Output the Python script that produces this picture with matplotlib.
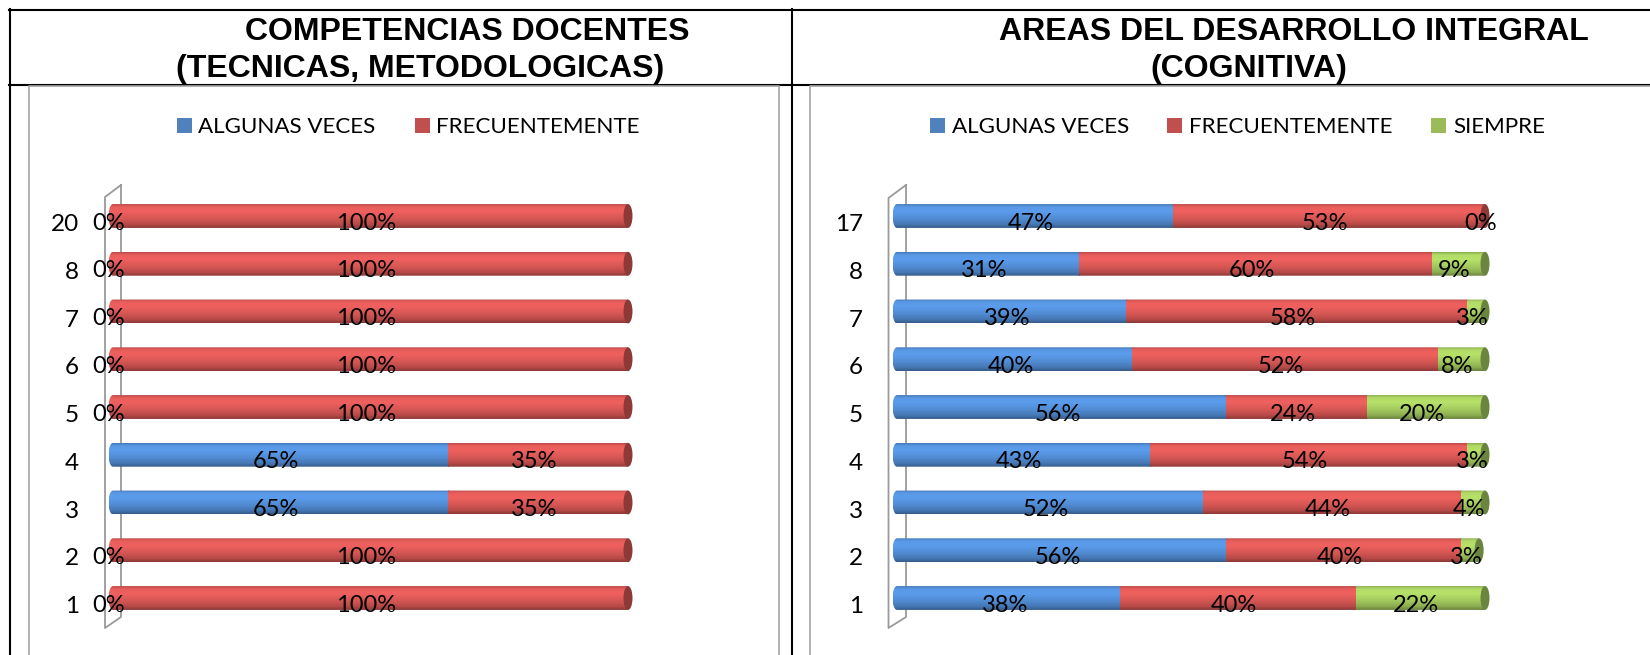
import numpy as np
import matplotlib
matplotlib.use('Agg')
import matplotlib.pyplot as plt
from matplotlib.patches import Polygon, Ellipse, Rectangle
from matplotlib.lines import Line2D
from matplotlib.transforms import ScaledTranslation

plt.rcParams['font.family'] = ['Lato', 'DejaVu Sans']

W, H = 1650, 655

## left chart: competencias docentes
rows_left = ['1', '2', '3', '4', '5', '6', '7', '8', '20']
algunas_left = [0, 0, 65, 65, 0, 0, 0, 0, 0]
frecuente_left = [100, 100, 35, 35, 100, 100, 100, 100, 100]

## right chart: areas del desarrollo integral
rows_right = ['1', '2', '3', '4', '5', '6', '7', '8', '17']
algunas_right = [38, 56, 52, 43, 56, 40, 39, 31, 47]
frecuente_right = [40, 40, 44, 54, 24, 52, 58, 60, 53]
siempre_right = [22, 3, 4, 3, 20, 8, 3, 9, 0]

names = ['ALGUNAS VECES', 'FRECUENTEMENTE', 'SIEMPRE']
bar_colors = [(0.32, 0.55, 0.83), (0.84, 0.34, 0.33), (0.64, 0.79, 0.37)]
legend_colors = ['#4F81BD', '#C0504D', '#9BBB59']


def fx(x):
    return x / W


def fy(y):
    return 1 - y / H


def shade(c):
    # vertical light profile of a cylinder lit from above
    t = np.linspace(0, 1, 32)
    f = np.interp(t, [0, 0.1, 0.3, 0.6, 0.85, 1], [0.88, 1.08, 1.12, 1.0, 0.86, 0.66])
    rgb = np.clip(np.outer(f, c), 0, 1)
    return rgb[:, None, :]


def make_axes(x0, x100):
    top, bottom = 170, 640
    step = 47.75
    px_per = (x100 - x0) / 100.0
    ax = fig.add_axes([fx(x0 - 5 * px_per), fy(bottom), 110 * px_per / W, (bottom - top) / H])
    ax.patch.set_visible(False)
    for s in ax.spines.values():
        s.set_visible(False)
    ax.set_xticks([])
    return ax, (-(bottom - 598) / step, 8 + (216 - top) / step)


def draw_chart(ax, ylim, rows, series, x0, x100):
    px_per = (x100 - x0) / 100.0
    r = 4.5 / px_per
    h = 0.5
    # labels sit on the front face of the cylinders: a bit left and down
    lab_dx = -4.0 / px_per
    for i in range(len(rows)):
        vals = [s[i] for s in series]
        total = sum(vals)
        t = np.linspace(np.pi / 2, 3 * np.pi / 2, 30)
        outline = np.column_stack([r * np.cos(t), i + h / 2 * np.sin(t)])
        outline = np.vstack([outline, [[total, i - h / 2], [total, i + h / 2]]])
        clip = Polygon(outline, closed=True, transform=ax.transData)
        left = 0
        started = False
        last_color = bar_colors[0]
        for v, c in zip(vals, bar_colors):
            if v > 0:
                xs = left if started else -r
                im = ax.imshow(shade(c), extent=[xs, left + v, i - h / 2, i + h / 2],
                               aspect='auto', interpolation='bilinear', zorder=2)
                im.set_clip_path(clip)
                started = True
                last_color = c
            ax.text(left + v / 2.0 + lab_dx, i - 0.283, '%d%%' % v, ha='center', va='baseline',
                    fontsize=17, zorder=5)
            left += v
        cap = Ellipse((total, i), 2 * r, h, facecolor=np.array(last_color) * 0.66,
                      edgecolor='none', zorder=3)
        ax.add_patch(cap)

    ax.set_yticks(range(len(rows)))
    ax.set_yticklabels(rows, fontsize=17.5)
    ax.tick_params(axis='y', length=0, pad=(34 - 5 * px_per) / 1.389)
    for lab in ax.get_yticklabels():
        lab.set_transform(lab.get_transform() + ScaledTranslation(0, -4.7 / 72, fig.dpi_scale_trans))
    ax.set_xlim(-5, 105)
    ax.set_ylim(*ylim)


def fig_line(xs, ys, color='black', lw=1.5, ax=None, zorder=2):
    X = [fx(x) for x in xs]
    Y = [fy(y) for y in ys]
    if ax is None:
        fig.add_artist(Line2D(X, Y, color=color, lw=lw, transform=fig.transFigure, zorder=zorder))
    else:
        ax.plot(X, Y, color=color, lw=lw, transform=fig.transFigure, clip_on=False, zorder=zorder)


def legend(items, y=132.7):
    for (sx, tx), name, col in items:
        fig.add_artist(Rectangle((fx(sx), fy(y)), 14.5 / W, 14.5 / H, facecolor=col,
                                 edgecolor='none', transform=fig.transFigure))
        fig.text(fx(tx), fy(y), name, fontsize=16.1, ha='left', va='baseline')


fig = plt.figure(figsize=(W / 100, H / 100), dpi=100)

## table lines
fig_line([9, 1650], [10, 10])
fig_line([9, 1650], [85, 85])
fig_line([9.5, 9.5], [9, 655])
fig_line([792, 792], [9, 655])

## chart frames
gray = '#a6a6a6'
fig_line([29, 29, 779, 779], [655, 86, 86, 655], color=gray, lw=1.2)
fig_line([810, 810, 1650], [655, 86, 86], color=gray, lw=1.2)

## titles
tkw = dict(fontfamily=['Liberation Sans', 'DejaVu Sans'], fontweight='bold', fontsize=23,
           ha='center', va='baseline')
fig.text(fx(467), fy(40.5), 'COMPETENCIAS DOCENTES', **tkw)
fig.text(fx(420), fy(77), '(TECNICAS, METODOLOGICAS)', **tkw)
fig.text(fx(1294), fy(40.5), 'AREAS DEL DESARROLLO INTEGRAL', **tkw)
fig.text(fx(1249), fy(77), '(COGNITIVA)', **tkw)

legend([((177, 198), names[0], legend_colors[0]),
        ((415, 436), names[1], legend_colors[1])])
legend([((930, 952), names[0], legend_colors[0]),
        ((1167, 1189), names[1], legend_colors[1]),
        ((1431, 1453), names[2], legend_colors[2])])

ax1, yl1 = make_axes(113, 628)
draw_chart(ax1, yl1, rows_left, [algunas_left, frecuente_left], 113, 628)
fig_line([121, 105, 105, 121, 121], [185, 197, 628, 617, 185], color='#9a9a9a', lw=1.3, ax=ax1, zorder=1)

ax2, yl2 = make_axes(897, 1485)
draw_chart(ax2, yl2, rows_right, [algunas_right, frecuente_right, siempre_right], 897, 1485)
fig_line([906, 888.5, 888.5, 906, 906], [185, 198, 628, 617, 185], color='#9a9a9a', lw=1.3, ax=ax2, zorder=1)

fig.savefig('out.png', dpi=100)
